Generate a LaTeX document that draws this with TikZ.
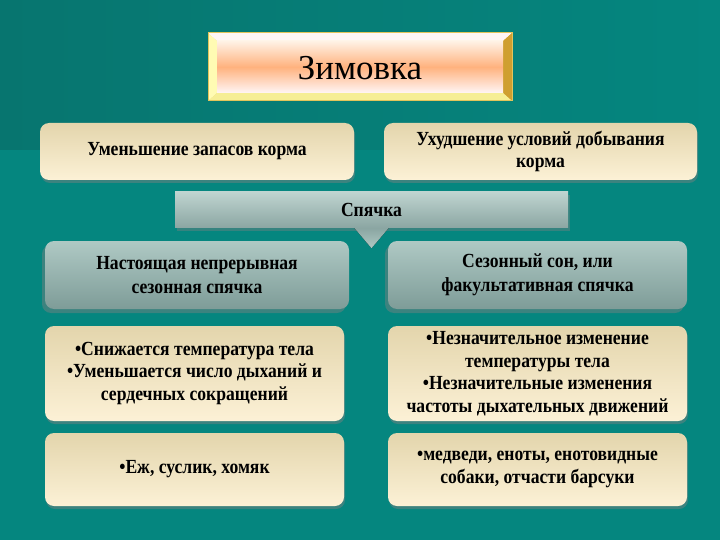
\documentclass[tikz,border=0pt]{standalone}
\usepackage{fontspec}
\setmainfont{Liberation Serif}
\newfontfamily\condfont[FakeStretch=0.88]{Liberation Serif}
\usepackage{tikz}
\usetikzlibrary{positioning,shadows,calc}
\definecolor{sea}{HTML}{05867F}
\definecolor{seadark}{HTML}{07756F}
\definecolor{creamtop}{HTML}{E3D5AC}
\definecolor{creambot}{HTML}{FCF1D6}
\definecolor{greytop}{HTML}{AFC9C4}
\definecolor{greybot}{HTML}{7E9C98}
\definecolor{peach}{HTML}{FFB27E}
\definecolor{gold}{HTML}{E8D060}

\begin{document}
\begin{tikzpicture}[x=1pt,y=-1pt,
    cream/.style={rounded corners=9pt, top color=creamtop, bottom color=creambot,
      drop shadow={shadow xshift=1pt,shadow yshift=-3pt,opacity=0.45},
      align=center, font=\condfont\bfseries\fontsize{20}{22.5}\selectfont, inner sep=0pt},
    grey/.style={rounded corners=9pt, top color=greytop, bottom color=greybot,
      drop shadow={shadow xshift=-3pt,shadow yshift=-4pt,opacity=0.45},
      align=center, font=\condfont\bfseries\fontsize{20}{24}\selectfont, inner sep=0pt}]
    % background
    \fill[sea] (0,0) rectangle (720,540);
    \shade[left color=seadark, right color=sea] (0,0) rectangle (720,150);

    % title with bevel
    \fill[gold] (208,33) rectangle (512,101);
    \fill[pink!15!white] (208,33) -- (512,33) -- (503,41) -- (217,41) -- cycle;
    \fill[yellow!30!white] (208,33) -- (217,41) -- (217,93) -- (208,101) -- cycle;
    \fill[brown!75!yellow] (512,33) -- (503,41) -- (503,93) -- (512,101) -- cycle;
    \fill[brown!30!yellow!45!white] (208,101) -- (217,93) -- (503,93) -- (512,101) -- cycle;
    \shade[top color=orange!10!white, bottom color=pink!15!white, middle color=peach] (217,41) rectangle (503,93);
    \draw[gold!85!brown, line width=1pt] (208,33) rectangle (512,101);
    \node (title) at (360,68) {\fontsize{35}{40}\selectfont Зимовка};

    % top boxes
    \node[cream, minimum width=314pt, minimum height=57pt] (food) at (197,151.5) {Уменьшение запасов корма};
    \node[cream, minimum width=313pt, minimum height=57pt] (hunt) at (540.5,151.5) {Ухудшение условий добывания\\корма};

    % hibernation bar
    \node[top color=greytop!80!white, bottom color=greybot!90!white, minimum width=393pt, minimum height=36pt,
      drop shadow={shadow xshift=2pt,shadow yshift=-3pt,opacity=0.4},
      font=\condfont\bfseries\fontsize{20}{22}\selectfont] (sleep) at (371.5,210) {Спячка};
    \fill[top color=greybot!90!white, bottom color=greytop] ($(sleep.south)+(-17,0)$) -- ($(sleep.south)+(17,0)$) -- ($(sleep.south)+(0,20)$) -- cycle;

    % two kinds
    \node[grey, minimum width=304pt, minimum height=68pt] (true) at (197,275) {Настоящая непрерывная\\сезонная спячка};
    \node[grey, minimum width=299pt, minimum height=68pt] (season) at (537.5,275) {Сезонный сон, или\\факультативная спячка};

    % signs
    \node[cream, minimum width=299pt, minimum height=95pt] (signa) at (194.5,373.5)
      {•Снижается температура тела\\•Уменьшается число дыханий и\\сердечных сокращений};
    \node[cream, minimum width=299pt, minimum height=95pt] (signb) at (537.5,373.5)
      {•Незначительное изменение\\температуры тела\\•Незначительные изменения\\частоты дыхательных движений};

    % animals
    \node[cream, minimum width=299pt, minimum height=73pt] (anima) at (194.5,469.5) {•Еж, суслик, хомяк};
    \node[cream, minimum width=299pt, minimum height=73pt] (animb) at (537.5,469.5)
      {•медведи, еноты, енотовидные\\собаки, отчасти барсуки};

    \useasboundingbox (0,0) rectangle (720,540);
\end{tikzpicture}
\end{document}
